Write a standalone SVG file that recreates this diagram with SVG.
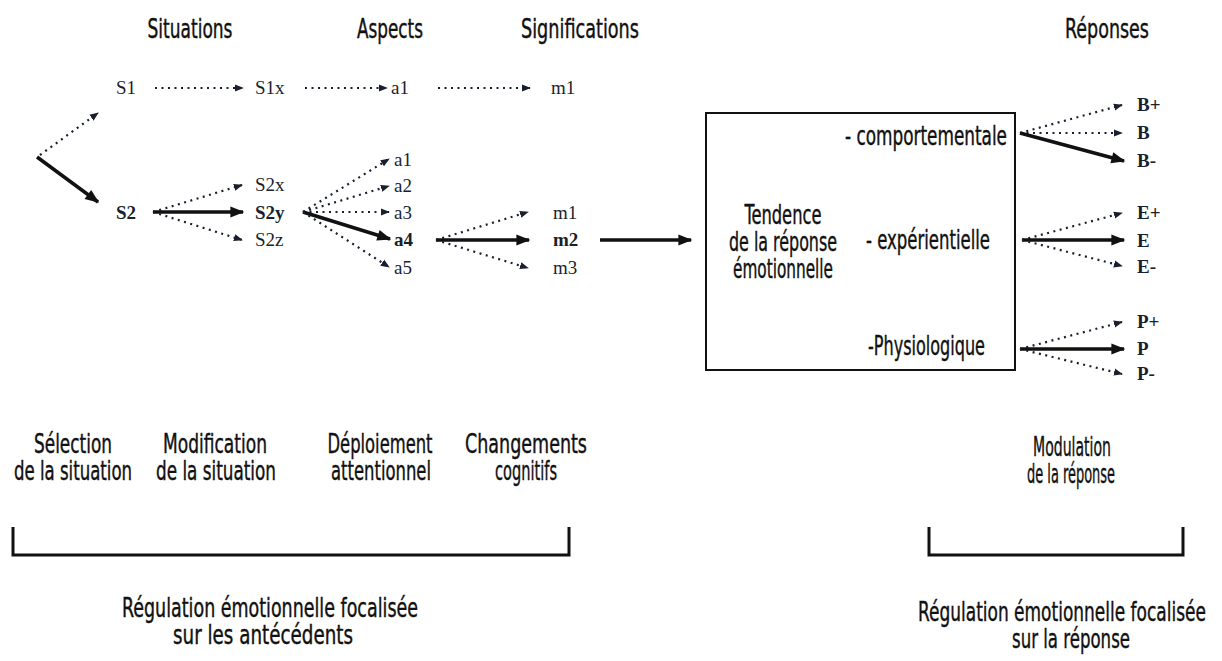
<svg xmlns="http://www.w3.org/2000/svg" width="1222" height="661" viewBox="0 0 1222 661">
<style>
.t{font-family:"DejaVu Sans Condensed","DejaVu Sans","Liberation Sans",sans-serif;font-stretch:condensed;font-size:26px;fill:#111;stroke:#111;stroke-width:0.4;text-anchor:middle}
.e{text-anchor:end}
.l{font-family:"Liberation Serif",serif;font-size:19px;fill:#1a1f2e}
.b{font-weight:bold}
.dot{stroke:#1a1f2e;stroke-width:2.2;stroke-dasharray:2 4.5;fill:none}
.sol{stroke:#111;stroke-width:3.5;fill:none}
</style>
<defs>
<marker id="ah" viewBox="0 0 10 10" refX="9" refY="5" markerWidth="9" markerHeight="9" markerUnits="userSpaceOnUse" orient="auto"><path d="M0,1 L10,5 L0,9 Z" fill="#1a1f2e"/></marker>
<marker id="ahb" viewBox="0 0 10 10" refX="9" refY="5" markerWidth="16" markerHeight="14" markerUnits="userSpaceOnUse" orient="auto"><path d="M0,1 L10,5 L0,9 Z" fill="#111"/></marker>
</defs>
<rect width="1222" height="661" fill="#fff"/>
<g id="headers">
<text class="t" x="190" y="38" textLength="85" lengthAdjust="spacingAndGlyphs">Situations</text>
<text class="t" x="390" y="38" textLength="66" lengthAdjust="spacingAndGlyphs">Aspects</text>
<text class="t" x="580" y="38" textLength="118" lengthAdjust="spacingAndGlyphs">Significations</text>
<text class="t" x="1107" y="38" textLength="84" lengthAdjust="spacingAndGlyphs">Réponses</text>
</g>
<g id="nodes-left">
<text class="l" x="116" y="94">S1</text>
<text class="l" x="255" y="94">S1x</text>
<text class="l" x="391" y="94">a1</text>
<text class="l" x="551" y="94">m1</text>
<text class="l b" x="116" y="219">S2</text>
<text class="l" x="255" y="191">S2x</text>
<text class="l b" x="255" y="219">S2y</text>
<text class="l" x="255" y="246">S2z</text>
<text class="l" x="394" y="166">a1</text>
<text class="l" x="394" y="192">a2</text>
<text class="l" x="394" y="219">a3</text>
<text class="l b" x="394" y="246">a4</text>
<text class="l" x="394" y="274">a5</text>
<text class="l" x="553" y="219">m1</text>
<text class="l b" x="553" y="246">m2</text>
<text class="l" x="553" y="274">m3</text>
</g>
<g id="box">
<rect x="706" y="113" width="309" height="257" fill="none" stroke="#111" stroke-width="2"/>
<text class="t" x="783" y="224" textLength="77" lengthAdjust="spacingAndGlyphs">Tendence</text>
<text class="t" x="783" y="251" textLength="108" lengthAdjust="spacingAndGlyphs">de la réponse</text>
<text class="t" x="783" y="278" textLength="100" lengthAdjust="spacingAndGlyphs">émotionnelle</text>
<text class="t e" x="1007" y="145" textLength="162" lengthAdjust="spacingAndGlyphs">- comportementale</text>
<text class="t e" x="990" y="249" textLength="124" lengthAdjust="spacingAndGlyphs">- expérientielle</text>
<text class="t e" x="985" y="355" textLength="117" lengthAdjust="spacingAndGlyphs">-Physiologique</text>
</g>
<g id="nodes-right">
<text class="l b" x="1137" y="111">B+</text>
<text class="l b" x="1137" y="139">B</text>
<text class="l b" x="1137" y="167">B-</text>
<text class="l b" x="1137" y="219">E+</text>
<text class="l b" x="1137" y="247">E</text>
<text class="l b" x="1137" y="273">E-</text>
<text class="l b" x="1137" y="328">P+</text>
<text class="l b" x="1137" y="355">P</text>
<text class="l b" x="1137" y="380">P-</text>
</g>
<g id="connectors">
<path class="dot" d="M40,155 L98,113" marker-end="url(#ah)"/>
<path class="sol" d="M37,157 L98,202" marker-end="url(#ahb)"/>
<path class="dot" d="M155,88 L243,88" marker-end="url(#ah)"/>
<path class="dot" d="M305,88 L387,88" marker-end="url(#ah)"/>
<path class="dot" d="M438,88 L530,88" marker-end="url(#ah)"/>
<path class="dot" d="M153,212 L242,185" marker-end="url(#ah)"/>
<path class="sol" d="M153,212 L243,212" marker-end="url(#ahb)"/>
<path class="dot" d="M153,212 L242,240" marker-end="url(#ah)"/>
<path class="dot" d="M303,212 L389,159" marker-end="url(#ah)"/>
<path class="dot" d="M303,212 L389,186" marker-end="url(#ah)"/>
<path class="dot" d="M303,212 L389,212" marker-end="url(#ah)"/>
<path class="sol" d="M303,212 L390,239" marker-end="url(#ahb)"/>
<path class="dot" d="M303,212 L389,267" marker-end="url(#ah)"/>
<path class="dot" d="M436,240 L528,212" marker-end="url(#ah)"/>
<path class="sol" d="M436,240 L529,240" marker-end="url(#ahb)"/>
<path class="dot" d="M436,240 L528,268" marker-end="url(#ah)"/>
<path class="sol" d="M600,240 L691,240" marker-end="url(#ahb)"/>
<path class="dot" d="M1020,133 L1122,105" marker-end="url(#ah)"/>
<path class="dot" d="M1020,133 L1122,133" marker-end="url(#ah)"/>
<path class="sol" d="M1020,133 L1124,161" marker-end="url(#ahb)"/>
<path class="dot" d="M1022,240 L1122,213" marker-end="url(#ah)"/>
<path class="sol" d="M1022,240 L1124,240" marker-end="url(#ahb)"/>
<path class="dot" d="M1022,240 L1122,266" marker-end="url(#ah)"/>
<path class="dot" d="M1020,349 L1122,322" marker-end="url(#ah)"/>
<path class="sol" d="M1020,349 L1124,349" marker-end="url(#ahb)"/>
<path class="dot" d="M1020,349 L1122,374" marker-end="url(#ah)"/>
</g>
<g id="bottom-labels">
<text class="t" x="73" y="453" textLength="78" lengthAdjust="spacingAndGlyphs">Sélection</text>
<text class="t" x="73" y="480" textLength="118" lengthAdjust="spacingAndGlyphs">de la situation</text>
<text class="t" x="215" y="453" textLength="104" lengthAdjust="spacingAndGlyphs">Modification</text>
<text class="t" x="216" y="480" textLength="120" lengthAdjust="spacingAndGlyphs">de la situation</text>
<text class="t" x="380" y="453" textLength="105" lengthAdjust="spacingAndGlyphs">Déploiement</text>
<text class="t" x="381" y="480" textLength="100" lengthAdjust="spacingAndGlyphs">attentionnel</text>
<text class="t" x="526" y="453" textLength="122" lengthAdjust="spacingAndGlyphs">Changements</text>
<text class="t" x="526" y="480" textLength="62" lengthAdjust="spacingAndGlyphs">cognitifs</text>
<text class="t" x="1072" y="456" textLength="78" lengthAdjust="spacingAndGlyphs">Modulation</text>
<text class="t" x="1071" y="483" textLength="88" lengthAdjust="spacingAndGlyphs">de la réponse</text>
</g>
<g id="brackets">
<path d="M13,527 V555 H569 V527" fill="none" stroke="#111" stroke-width="3"/>
<path d="M929,527 V555 H1183 V527" fill="none" stroke="#111" stroke-width="3"/>
</g>
<g id="captions">
<text class="t" x="270" y="617" textLength="296" lengthAdjust="spacingAndGlyphs">Régulation émotionnelle focalisée</text>
<text class="t" x="263" y="644" textLength="180" lengthAdjust="spacingAndGlyphs">sur les antécédents</text>
<text class="t" x="1062" y="621" textLength="288" lengthAdjust="spacingAndGlyphs">Régulation émotionnelle focalisée</text>
<text class="t" x="1071" y="648" textLength="118" lengthAdjust="spacingAndGlyphs">sur la réponse</text>
</g>
</svg>
